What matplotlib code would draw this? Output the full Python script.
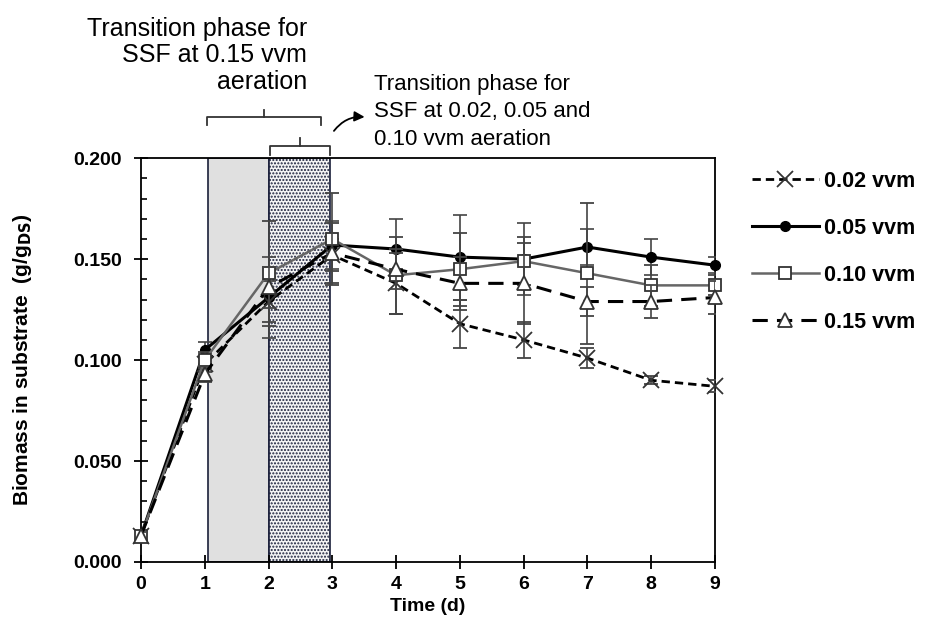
import numpy as np
import matplotlib
matplotlib.use("Agg")
import matplotlib.pyplot as plt
from matplotlib.lines import Line2D

# data
days = [0, 1, 2, 3, 4, 5, 6, 7, 8, 9]
b002 = [0.013, 0.098, 0.129, 0.152, 0.138, 0.118, 0.110, 0.101, 0.090, 0.087]
e002 = [0.002, 0.004, 0.010, 0.008, 0.015, 0.012, 0.009, 0.005, 0.002, 0.003]
b005 = [0.013, 0.105, 0.131, 0.157, 0.155, 0.151, 0.150, 0.156, 0.151, 0.147]
e005 = [0.002, 0.004, 0.020, 0.012, 0.015, 0.021, 0.018, 0.009, 0.009, 0.004]
b010 = [0.013, 0.100, 0.143, 0.160, 0.142, 0.145, 0.149, 0.143, 0.137, 0.137]
e010 = [0.002, 0.004, 0.026, 0.023, 0.019, 0.018, 0.012, 0.035, 0.010, 0.005]
b015 = [0.013, 0.093, 0.136, 0.153, 0.145, 0.138, 0.138, 0.129, 0.129, 0.131]
e015 = [0.002, 0.004, 0.010, 0.015, 0.010, 0.013, 0.020, 0.007, 0.008, 0.008]
labels = ["0.02 vvm", "0.05 vvm", "0.10 vvm", "0.15 vvm"]

phase1 = (1.05, 2.0)   # 0.15 vvm transition
phase2 = (2.0, 2.97)   # other aerations

plt.rcParams['font.family'] = ['Liberation Sans', 'DejaVu Sans']
plt.rcParams['hatch.color'] = '#8a8a8a'
plt.rcParams['hatch.linewidth'] = 1.0

fig = plt.figure(figsize=(9.25, 6.43), dpi=100)
ax = fig.add_axes([0.1524, 0.126, 0.6205, 0.628])

# shaded transition phases
ax.axvspan(phase1[0], phase1[1], facecolor='#e0e0e0', edgecolor='#1a1f3a', lw=1.2, zorder=1)
ax.axvspan(phase2[0], phase2[1], facecolor='#f4f4f4', edgecolor='#1a1f3a', lw=1.2,
           hatch='.....', zorder=1)

ecol = '#444444'
ekw = dict(ecolor=ecol, elinewidth=1.2, capsize=5, capthick=1.2)

# legend order: 0.02, 0.05, 0.10, 0.15
series = [
    (b002, e002, dict(color='black', ls=(0, (3, 1.8)), lw=2, marker='x', ms=11,
                      mec='#333333', mew=1.3, zorder=4)),
    (b005, e005, dict(color='black', ls='-', lw=2.2, marker='o', ms=7,
                      mfc='black', mec='black', zorder=3)),
    (b010, e010, dict(color='#666666', ls='-', lw=1.8, marker='s', ms=9,
                      mfc='white', mec='#333333', mew=1.3, zorder=5)),
    (b015, e015, dict(color='black', ls=(0, (5, 3)), lw=2.2, marker='^', ms=10,
                      mfc='white', mec='#333333', mew=1.3, zorder=6)),
]
for vals, errs, kw in series:
    cont = ax.errorbar(days, vals, yerr=errs, **kw, **ekw)
    cont.lines[0].set_clip_on(False)

ax.set_xlim(0, 9)
ax.set_ylim(0, 0.2)
ax.set_xticks(range(0, 10))
ax.set_yticks(np.arange(0, 0.201, 0.05))
ax.set_yticks(np.arange(0, 0.201, 0.01), minor=True)
ax.set_yticklabels(['%.3f' % v for v in np.arange(0, 0.201, 0.05)])
ax.tick_params(axis='both', which='major', direction='inout', length=10, width=1.3,
               labelsize=14, top=False, right=False)
ax.tick_params(axis='y', which='minor', direction='in', length=4, width=1.2)
ax.tick_params(axis='x', pad=5)
ax.tick_params(axis='y', pad=9)
for lab in ax.get_xticklabels() + ax.get_yticklabels():
    lab.set_fontweight('bold')
for s in ax.spines.values():
    s.set_linewidth(1.3)

ax.set_xlabel('Time (d)', fontsize=14, fontweight='bold', labelpad=4)
ax.set_ylabel(r'Biomass in substrate  (g/g$_{\mathbf{DS}}$)', fontsize=15,
              fontweight='bold', labelpad=28)

# brackets above the plot
bk = dict(color='#333333', lw=1.3, clip_on=False)
x0, x1, yb = 1.03, 2.83, 0.2203
ax.plot([x0, x0, x1, x1], [yb - 0.004, yb, yb, yb - 0.004], **bk)
ax.plot([(x0 + x1) / 2] * 2, [yb, yb + 0.0035], **bk)
x0, x1, yb = 2.02, 2.97, 0.206
ax.plot([x0, x0, x1, x1], [yb - 0.0045, yb, yb, yb - 0.0045], **bk)
ax.plot([(x0 + x1) / 2] * 2, [yb, yb + 0.004], **bk)
ax.annotate('', xy=(3.55, 0.2203), xytext=(3.0, 0.2124), annotation_clip=False,
            arrowprops=dict(arrowstyle='-|>', color='black', lw=1.3,
                            connectionstyle='arc3,rad=-0.3', mutation_scale=15))

fig.text(307 / 925, 1 - 17 / 643, 'Transition phase for\nSSF at 0.15 vvm\naeration',
         ha='right', va='top', fontsize=18, linespacing=1.12, multialignment='right')
fig.text(374 / 925, 1 - 74 / 643, 'Transition phase for\nSSF at 0.02, 0.05 and\n0.10 vvm aeration',
         ha='left', va='top', fontsize=16, linespacing=1.4)

handles = [Line2D([], [], **{k: v for k, v in kw.items() if k != 'zorder'})
           for _, _, kw in series]
leg = fig.legend(handles, labels, loc='upper left',
                 bbox_to_anchor=(752 / 925, 1 - 171 / 643),
                 frameon=False, handlelength=3.1, labelspacing=1.2,
                 handletextpad=0.25, borderaxespad=0, borderpad=0,
                 prop=dict(weight='bold', size=15.5))

fig.savefig('out.png', dpi=100)
